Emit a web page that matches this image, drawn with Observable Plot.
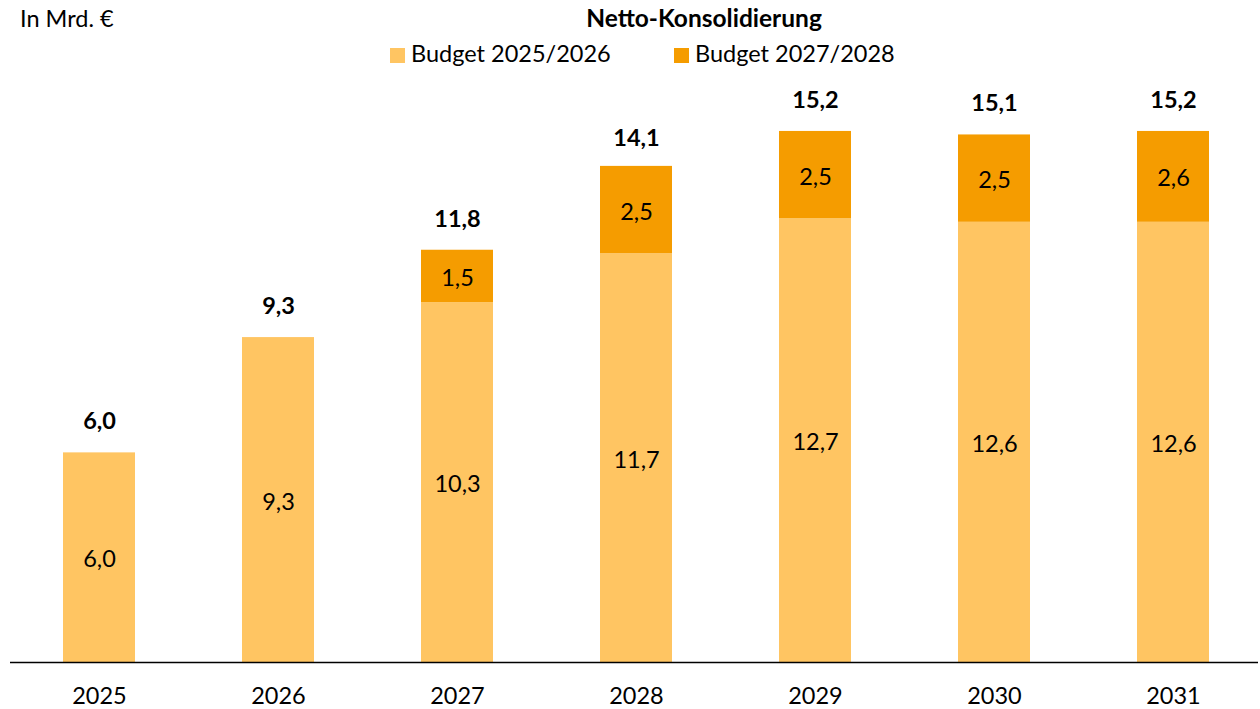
<!DOCTYPE html>
<html>
<head>
<meta charset="utf-8">
<script src="https://cdn.jsdelivr.net/npm/d3@7"></script>
<script src="https://cdn.jsdelivr.net/npm/@observablehq/plot@0.6"></script>
<style>
  html, body { margin: 0; padding: 0; background: #fff; }
  #wrap { position: relative; width: 1260px; height: 709px; font-family: Lato, "Open Sans", sans-serif; color: #000; }
  #wrap svg { position: absolute; left: 0; top: 0; }
  .t { position: absolute; font-size: 23.5px; line-height: 1; white-space: nowrap; }
  .sw { position: absolute; width: 15px; height: 15px; }
</style>
</head>
<body>
<div id="wrap">
  <div class="t" id="unit" style="left:20px; top:7px;">In Mrd. €</div>
  <div class="t" id="title" style="left:704px; top:6px; transform:translateX(-50%); font-weight:bold; font-size:24.5px;">Netto-Konsolidierung</div>
  <div class="sw" style="left:390px; top:48px; background:#FFC562;"></div>
  <div class="t" style="left:411px; top:42px;">Budget 2025/2026</div>
  <div class="sw" style="left:674px; top:48px; background:#F59C00;"></div>
  <div class="t" style="left:695px; top:42px;">Budget 2027/2028</div>
</div>
<script>
const years = ["2025", "2026", "2027", "2028", "2029", "2030", "2031"];
const budget2526 = [6.0, 9.3, 10.3, 11.7, 12.7, 12.6, 12.6];
const budget2728 = [0, 0, 1.5, 2.5, 2.5, 2.5, 2.6];
const totals = [6.0, 9.3, 11.8, 14.1, 15.2, 15.1, 15.2];
const seriesNames = ["Budget 2025/2026", "Budget 2027/2028"];
const seriesColors = ["#FFC562", "#F59C00"];

const fmt = v => v.toFixed(1).replace(".", ",");

const rows = [];
years.forEach((y, i) => {
  rows.push({year: y, series: seriesNames[0], value: budget2526[i]});
  if (budget2728[i] > 0) rows.push({year: y, series: seriesNames[1], value: budget2728[i]});
});
const totalRows = years.map((y, i) => ({year: y, total: totals[i]}));

const chart = Plot.plot({
  width: 1260,
  height: 709,
  marginTop: 103,
  marginBottom: 47,
  marginLeft: 10,
  marginRight: 2,
  style: {fontFamily: "Lato, 'Open Sans', sans-serif", fontSize: "23.5px", background: "transparent", color: "#000"},
  x: {domain: years, range: [8.4, 1262.8], paddingInner: 0.6, paddingOuter: 0.3, label: null},
  y: {domain: [0, 16], axis: null},
  color: {domain: seriesNames, range: seriesColors},
  marks: [
    Plot.barY(rows, {x: "year", y: "value", fill: "series", order: seriesNames}),
    Plot.text(rows, Plot.stackY({x: "year", y: "value", z: "series", order: seriesNames, text: d => fmt(d.value), fill: "#000", fontSize: 23.5, dy: 2})),
    Plot.text(totalRows, {x: "year", y: "total", text: d => fmt(d.total), dy: -31, fontWeight: "bold", fontSize: 23.5, fill: "#000"}),
    Plot.ruleY([0], {stroke: "#000", strokeWidth: 1.5}),
    Plot.axisX({tickSize: 0, tickPadding: 25, fontSize: 23.5, label: null})
  ]
});
document.getElementById("wrap").prepend(chart);
</script>
</body>
</html>
